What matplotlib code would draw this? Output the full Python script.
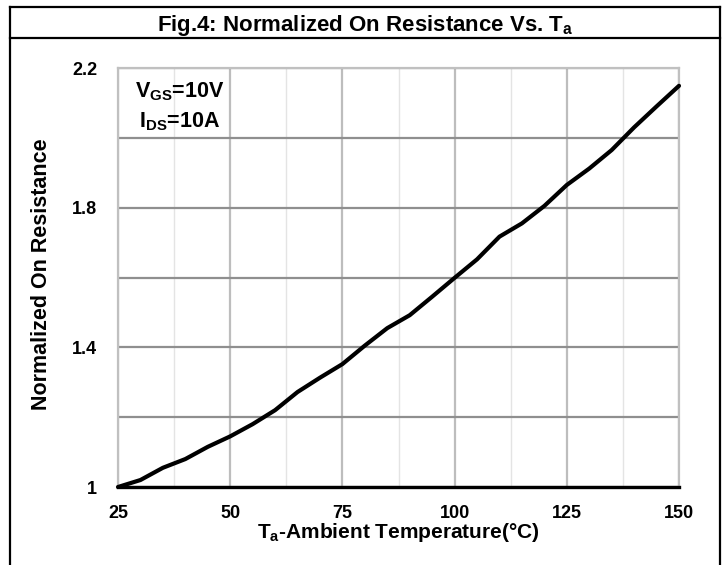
import matplotlib
matplotlib.use('Agg')
import matplotlib.pyplot as plt
from matplotlib.lines import Line2D
from matplotlib.ticker import MultipleLocator

# curve
temperature = [25, 30, 35, 40, 45, 50, 55, 60, 65, 70, 75, 80, 85,
               90, 95, 100, 105, 110, 115, 120, 125, 130, 135, 140, 145, 150]
resistance = [1.0, 1.02, 1.055, 1.08, 1.115, 1.145, 1.18, 1.22, 1.272, 1.313,
              1.352, 1.405, 1.455, 1.492, 1.545, 1.599, 1.652, 1.717, 1.755,
              1.805, 1.865, 1.912, 1.965, 2.03, 2.09, 2.149]

x_ticks = [25, 50, 75, 100, 125, 150]
y_ticks = [1.0, 1.4, 1.8, 2.2]
y_tick_labels = ['1', '1.4', '1.8', '2.2']

W, H = 728, 565
NARROW = ['Liberation Sans Narrow', 'Liberation Sans', 'DejaVu Sans']
WIDE = ['Liberation Sans', 'DejaVu Sans']

fig = plt.figure(figsize=(W / 100, H / 100), dpi=100)
fig.patch.set_facecolor('white')


def fx(px):
    return px / W


def fy(py):
    return 1 - py / H


# outer frame and title box
frame = dict(color='black', lw=1.6, transform=fig.transFigure, solid_capstyle='projecting')
fig.add_artist(Line2D([fx(10), fx(10)], [fy(7), 0], **frame))
fig.add_artist(Line2D([fx(720), fx(720)], [fy(7), 0], **frame))
fig.add_artist(Line2D([fx(10), fx(720)], [fy(7), fy(7)], **frame))
fig.add_artist(Line2D([fx(10), fx(720)], [fy(38), fy(38)], **frame))

fig.text(fx(365), fy(31), r'Fig.4: Normalized On Resistance Vs. T$\mathregular{_a}$',
         ha='center', va='baseline', fontsize=16, fontweight='bold', family=NARROW)

ax = fig.add_axes([fx(118), fy(487), (679 - 118) / W, (487 - 68) / H])
ax.plot(temperature, resistance, color='black', lw=3, solid_capstyle='round', zorder=5, clip_on=False)

ax.set_xlim(25, 150)
ax.set_ylim(1.0, 2.2)
ax.set_xticks(x_ticks)
ax.xaxis.set_minor_locator(MultipleLocator(12.5))
ax.set_yticks(y_ticks)
ax.set_yticklabels(y_tick_labels)
ax.yaxis.set_minor_locator(MultipleLocator(0.2))

ax.grid(which='major', axis='x', color='#bdbdbd', lw=1.6)
ax.grid(which='minor', axis='x', color='#e4e4e4', lw=1.0)
ax.grid(which='both', axis='y', color='#8f8f8f', lw=1.6)
ax.set_axisbelow(True)

for side in ['top', 'right', 'left']:
    ax.spines[side].set_color('#c0c0c0')
    ax.spines[side].set_linewidth(1.6)
ax.spines['bottom'].set_color('black')
ax.spines['bottom'].set_linewidth(2.4)
ax.spines['bottom'].set_zorder(6)

ax.tick_params(which='both', length=0)
ax.tick_params(axis='x', pad=13)
ax.tick_params(axis='y', pad=15)
for lab in ax.get_xticklabels() + ax.get_yticklabels():
    lab.set_fontsize(13)
    lab.set_fontweight('bold')
    lab.set_family(NARROW)

fig.text(fx(42), fy(274), 'Normalized On Resistance', rotation=90, ha='center', va='center',
         fontsize=15.5, fontweight='bold', family=WIDE)
fig.text(fx(398), fy(538), r'T$\mathregular{_a}$-Ambient Temperature(°C)', ha='center',
         va='baseline', fontsize=15, fontweight='bold', family=WIDE)

fig.text(fx(135), fy(97), r'V$\mathregular{_{GS}}$=10V', ha='left', va='baseline',
         fontsize=15.5, fontweight='bold', family=NARROW)
fig.text(fx(139), fy(127), r'I$\mathregular{_{DS}}$=10A', ha='left', va='baseline',
         fontsize=15.5, fontweight='bold', family=NARROW)

fig.savefig('out.png', dpi=100)
